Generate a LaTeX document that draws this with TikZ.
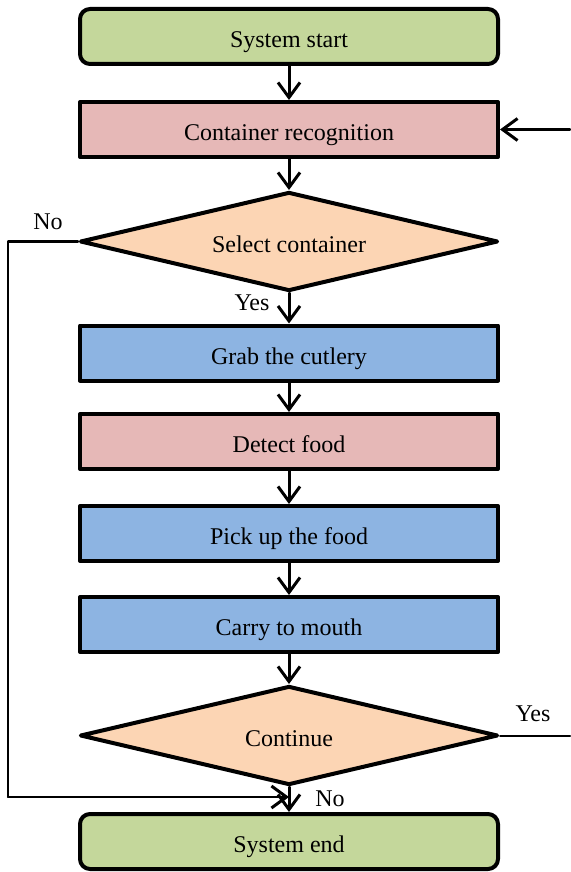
\documentclass[tikz,border=0pt]{standalone}
\usepackage{fontspec}
\setmainfont{Liberation Serif}
\usetikzlibrary{shapes.geometric,arrows.meta}

\definecolor{termgreen}{RGB}{196,215,155}
\definecolor{procpink}{RGB}{230,184,183}
\definecolor{decpeach}{RGB}{252,213,180}
\definecolor{actblue}{RGB}{141,180,226}

\begin{document}
\begin{tikzpicture}[
    x=1pt,
    y=-1pt,
    line cap=round,
    line join=round,
    font=\fontsize{24}{28}\selectfont,
    block/.style={
        rectangle,
        draw,
        line width=4pt,
        minimum width=418pt,
        minimum height=55pt,
        inner sep=0pt,
        text height=22pt,
        text depth=0pt
    },
    terminal/.style={
        block,
        rounded corners=10pt,
        fill=termgreen
    },
    decision/.style={
        diamond,
        draw,
        line width=4pt,
        fill=decpeach,
        aspect=4.18,
        minimum width=418pt,
        minimum height=99pt,
        inner sep=0pt,
        text height=22pt,
        text depth=0pt
    },
    flow/.style={
        line width=3pt,
        -{Straight Barb[length=15pt,width=22pt,line width=3pt]}
    },
    loopline/.style={
        line width=2.5pt
    }
]

\useasboundingbox (0,0) rectangle (570,872);

% =================================================
% Blocks
% =================================================

\node[terminal] (start) at (289,36.5) {System start};
\node[block, fill=procpink] (recog) at (289,129.5) {Container recognition};
\node[decision] (select) at (289,241.5) {Select container};
\node[block, fill=actblue] (grab) at (289,353) {Grab the cutlery};
\node[block, fill=procpink] (detect) at (289,441.5) {Detect food};
\node[block, fill=actblue] (pick) at (289,533.5) {Pick up the food};
\node[block, fill=actblue] (carry) at (289,624.5) {Carry to mouth};
\node[decision] (cont) at (289,735.5) {Continue};
\node[terminal] (stop) at (289,841.5) {System end};

% =================================================
% Free ends of the loops
% =================================================

\coordinate (noturn) at (8,241.5);
\coordinate (nodown) at (8,797);
\coordinate (nojoin) at (289,797);
\coordinate (yesend) at (570,735.5);
\coordinate (backin) at (570,129.5);

% =================================================
% Main flow
% =================================================

\draw[flow] (start) -- (recog);
\draw[flow] (recog) -- (select.north);
\draw[flow] (select.south) -- (grab);
\draw[flow] (grab) -- (detect);
\draw[flow] (detect) -- (pick);
\draw[flow] (pick) -- (carry);
\draw[flow] (carry) -- (cont.north);
\draw[flow] (cont.south) -- (stop);

% =================================================
% Branches
% =================================================

% No: back to the bottom
\draw[loopline] (select.west) -- (noturn) -- (nodown) -- (nojoin);
\draw[flow, line width=2.5pt] (nodown) -- (nojoin);

% Yes: back to recognition
\draw[loopline, line width=2pt] (cont.east) -- (yesend);
\draw[flow, line width=2.5pt] (backin) -- (recog.east);

% =================================================
% Labels
% =================================================

\node (labno) at (48,222) {No};
\node (labyes) at (252,303) {Yes};
\node (labyes2) at (533,714) {Yes};
\node (labno2) at (330,799) {No};

\end{tikzpicture}
\end{document}
